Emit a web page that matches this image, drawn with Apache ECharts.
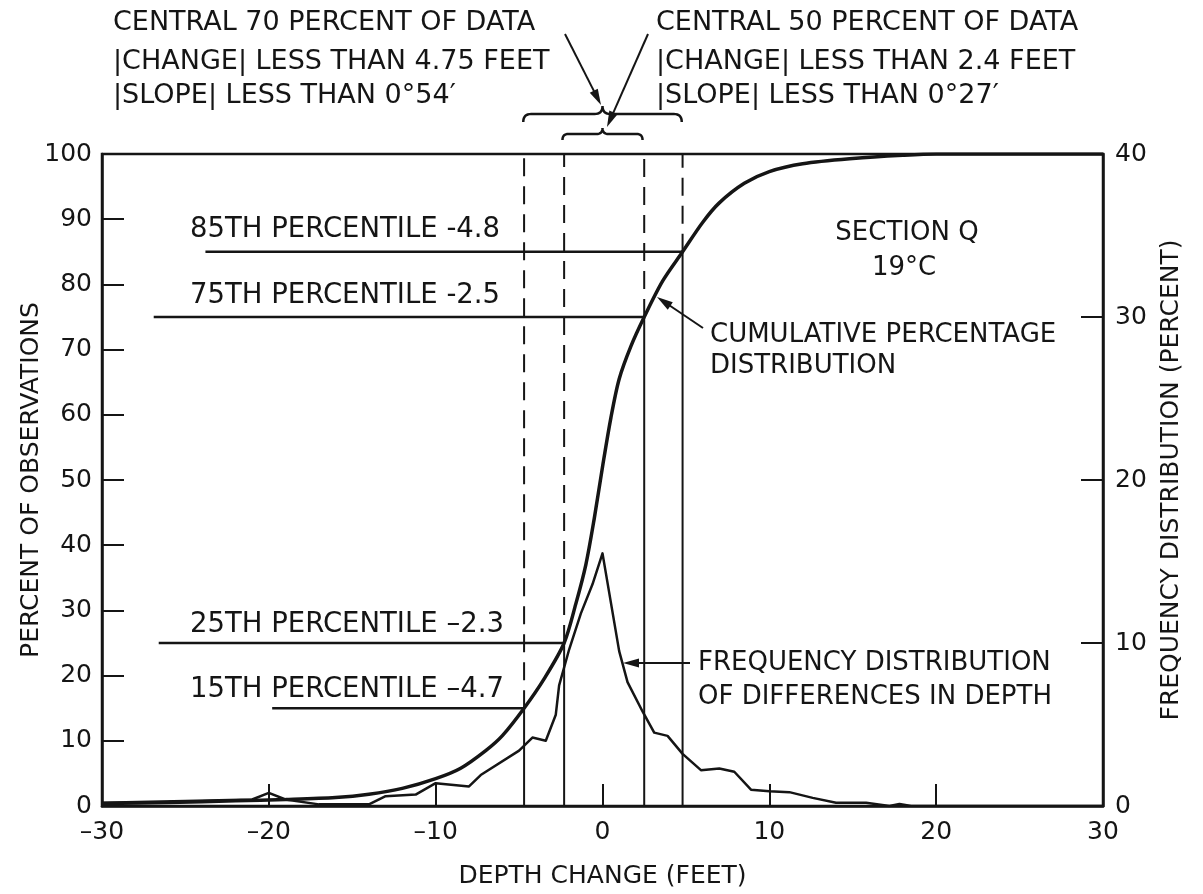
<!DOCTYPE html>
<html><head><meta charset="utf-8">
<script src="https://cdn.jsdelivr.net/npm/echarts/dist/echarts.min.js"></script>
<style>html,body{margin:0;padding:0;background:#fff}#c{width:1203px;height:894px}</style>
</head><body><div id="c"></div>
<script>
// ---- data ----
const cumX = [-30, -26, -22, -19, -16, -14, -12, -10, -8.5, -7, -6, -4.7, -3.5, -2.3, -1.6, -1.0, -0.5, 0, 0.5, 1.0, 1.7, 2.5, 3.6, 4.8, 6, 7, 8.5, 10, 12, 15, 18, 20, 30];
const cumY = [0.4, 0.55, 0.8, 1.0, 1.3, 1.8, 2.7, 4.2, 5.8, 8.5, 10.8, 15, 19.5, 25, 31, 37, 44, 52, 59.5, 65.5, 70.5, 75, 80.5, 85, 89.5, 92.5, 95.5, 97.3, 98.5, 99.3, 99.8, 100, 100];
const freqX = [-30, -25, -21, -20, -19, -17, -14, -13, -11.2, -10, -8, -7.3, -5, -4.2, -3.4, -2.8, -2.6, -2.0, -1.3, -0.6, 0, 1.0, 1.5, 2.4, 3.1, 3.9, 4.8, 5.9, 7.0, 7.9, 8.9, 10, 11.2, 12.6, 14, 15.8, 17.2, 17.8, 18.5, 30];
const freqY = [0.2, 0.3, 0.4, 0.8, 0.4, 0.1, 0.1, 0.6, 0.7, 1.4, 1.2, 1.9, 3.4, 4.2, 4.0, 5.6, 7.4, 9.6, 11.8, 13.6, 15.5, 9.5, 7.6, 5.8, 4.5, 4.3, 3.2, 2.2, 2.3, 2.1, 1.0, 0.9, 0.85, 0.5, 0.2, 0.2, 0, 0.12, 0, 0];
const pctLevels = [85, 75, 25, 15];
const pctValues = [4.8, 2.5, -2.3, -4.7];
const pctLineStart = [-23.8, -26.9, -26.6, -19.8];
const pctLabels = ['85TH PERCENTILE -4.8', '75TH PERCENTILE -2.5', '25TH PERCENTILE \u20132.3', '15TH PERCENTILE \u20134.7'];
const central70 = 4.75;
const central50 = 2.4;

const FONT = '"DejaVu Sans", sans-serif';
const INK = '#151515';

const chart = echarts.init(document.getElementById('c'), null, {renderer: 'canvas'});

const series = [];
series.push({
  type: 'line', name: 'cumulative', xAxisIndex: 0, yAxisIndex: 0,
  data: cumX.map((x, i) => [x, cumY[i]]), showSymbol: false, smooth: 0.3,
  lineStyle: {color: INK, width: 3.5}, z: 5, silent: true
});
series.push({
  type: 'line', name: 'frequency', xAxisIndex: 0, yAxisIndex: 1,
  data: freqX.map((x, i) => [x, freqY[i]]), showSymbol: false, smooth: false,
  lineStyle: {color: INK, width: 2.5, join: 'round'}, z: 5, silent: true
});
pctLevels.forEach((p, i) => {
  const v = pctValues[i];
  series.push({type: 'line', yAxisIndex: 0, data: [[pctLineStart[i], p], [v, p]], showSymbol: false,
    lineStyle: {color: INK, width: 2.5}, silent: true, z: 3});
  series.push({type: 'line', yAxisIndex: 0, data: [[v, 0], [v, p]], showSymbol: false,
    lineStyle: {color: INK, width: 2}, silent: true, z: 3});
  series.push({type: 'line', yAxisIndex: 0, data: [[v, p], [v, 100]], showSymbol: false,
    lineStyle: {color: INK, width: 2, type: [18, 10]}, silent: true, z: 3});
});

const tickFmt = v => String(v).replace('-', '\u2013');

chart.setOption({
  animation: false,
  backgroundColor: '#fff',
  grid: {left: 102, right: 100, top: 154, bottom: 86, show: true, borderColor: INK, borderWidth: 2.5},
  xAxis: {
    type: 'value', min: -30, max: 30, interval: 10,
    name: 'DEPTH CHANGE (FEET)', nameLocation: 'middle', nameGap: 58,
    nameTextStyle: {fontFamily: FONT, fontSize: 25, color: INK},
    axisLine: {show: true, onZero: false, lineStyle: {color: INK, width: 2.5}},
    axisTick: {show: true, inside: true, length: 22, lineStyle: {color: INK, width: 2}},
    axisLabel: {fontFamily: FONT, fontSize: 25, color: INK, margin: 14, formatter: tickFmt},
    splitLine: {show: false}
  },
  yAxis: [{
    type: 'value', min: 0, max: 100, interval: 10, position: 'left',
    name: 'PERCENT OF OBSERVATIONS', nameLocation: 'middle', nameGap: 58, nameMoveOverlap: false,
    nameTextStyle: {fontFamily: FONT, fontSize: 25, color: INK},
    axisLine: {show: true, onZero: false, lineStyle: {color: INK, width: 2.5}},
    axisTick: {show: true, inside: true, length: 22, lineStyle: {color: INK, width: 2}},
    axisLabel: {fontFamily: FONT, fontSize: 25, color: INK, margin: 10},
    splitLine: {show: false}
  }, {
    type: 'value', min: 0, max: 40, interval: 10, position: 'right',
    name: 'FREQUENCY DISTRIBUTION (PERCENT)', nameLocation: 'middle', nameGap: 56, nameRotate: 90,
    nameTextStyle: {fontFamily: FONT, fontSize: 25, color: INK},
    axisLine: {show: true, onZero: false, lineStyle: {color: INK, width: 2.5}},
    axisTick: {show: true, inside: true, length: 22, lineStyle: {color: INK, width: 2}},
    axisLabel: {fontFamily: FONT, fontSize: 25, color: INK, margin: 12},
    splitLine: {show: false}
  }],
  series: series
});

// ---- annotations ----
function txt(s, x, y, size, align) {
  return {type: 'text', silent: true, z: 10, style: {text: s, x: x, y: y, fill: INK,
    font: (size || 27) + 'px ' + FONT, align: align || 'left', verticalAlign: 'middle',
    textAlign: align || 'left', textVerticalAlign: 'middle'}};
}
function arrow(x1, y1, x2, y2) {
  const a = Math.atan2(y2 - y1, x2 - x1), c = Math.cos(a), s = Math.sin(a);
  const head = 16, w = 4.5;
  const bx = x2 - head * c, by = y2 - head * s;
  return [
    {type: 'line', silent: true, z: 10, shape: {x1: x1, y1: y1, x2: bx + 3 * c, y2: by + 3 * s}, style: {stroke: INK, lineWidth: 2}},
    {type: 'polygon', silent: true, z: 10, shape: {points: [[x2, y2], [bx - w * s, by + w * c], [bx + w * s, by - w * c]]}, style: {fill: INK}}
  ];
}
function quad(p0, p1, p2, out) {
  for (let t = 0; t <= 1.0001; t += 0.125) {
    const u = 1 - t;
    out.push([u * u * p0[0] + 2 * u * t * p1[0] + t * t * p2[0], u * u * p0[1] + 2 * u * t * p1[1] + t * t * p2[1]]);
  }
}
function brace(x1, x2, yf, h) {
  const cx = (x1 + x2) / 2, pts = [];
  quad([x1, yf + h], [x1, yf], [x1 + h, yf], pts);
  quad([cx - h, yf], [cx, yf], [cx, yf - h], pts);
  quad([cx, yf - h], [cx, yf], [cx + h, yf], pts);
  quad([x2 - h, yf], [x2, yf], [x2, yf + h], pts);
  return {type: 'polyline', silent: true, z: 10, shape: {points: pts}, style: {stroke: INK, lineWidth: 2.5, fill: null}};
}
const px = v => chart.convertToPixel({xAxisIndex: 0}, v);

let els = [];
els.push(txt('CENTRAL 70 PERCENT OF DATA', 113, 23));
els.push(txt('|CHANGE| LESS THAN 4.75 FEET', 113, 62));
els.push(txt('|SLOPE| LESS THAN 0\u00b054\u2032', 113, 96));
els.push(txt('CENTRAL 50 PERCENT OF DATA', 656, 23));
els.push(txt('|CHANGE| LESS THAN 2.4 FEET', 656, 62));
els.push(txt('|SLOPE| LESS THAN 0\u00b027\u2032', 656, 96));
els.push(brace(px(-central70), px(central70), 114, 8));
els.push(brace(px(-central50), px(central50), 134, 6));
els = els.concat(arrow(565, 34, 601, 105));
els = els.concat(arrow(648, 34, 607, 127));

const pctTextY = [230, 296, 625, 690];
pctLabels.forEach((s, i) => els.push(txt(s, 190, pctTextY[i], 27.5)));

els.push(txt('SECTION Q', 907, 233, 26, 'center'));
els.push(txt('19\u00b0C', 904, 268, 26, 'center'));
els.push(txt('CUMULATIVE PERCENTAGE', 710, 335, 26));
els.push(txt('DISTRIBUTION', 710, 366, 26));
els = els.concat(arrow(703, 328, 657, 297));
els.push(txt('FREQUENCY DISTRIBUTION', 698, 663, 26));
els.push(txt('OF DIFFERENCES IN DEPTH', 698, 697, 26));
els = els.concat(arrow(690, 663, 623, 663));

chart.setOption({graphic: {elements: els}});
</script>
</body></html>
